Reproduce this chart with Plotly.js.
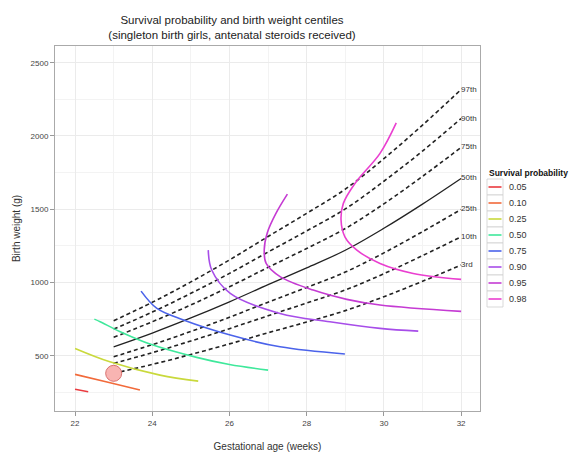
<!DOCTYPE html>
<html>
<head>
<meta charset="utf-8">
<script src="https://cdn.plot.ly/plotly-3.0.1.min.js"></script>
<style>html,body{margin:0;padding:0;background:#fff;}#chart{width:570px;height:453px;}</style>
</head>
<body>
<div id="chart"></div>
<script>
// Centile lines (gestational age in weeks, birth weight in g)
const centileAges = [23, 24, 25, 26, 27, 28, 29, 30, 31, 32];
const centileLabels = ["97th", "90th", "75th", "50th", "25th", "10th", "3rd"];
const c97 = [739, 865, 1004, 1154, 1314, 1472, 1637, 1845, 2074, 2317];
const c90 = [682, 798, 926, 1062, 1208, 1352, 1502, 1691, 1897, 2119];
const c75 = [626, 732, 847, 971, 1103, 1232, 1368, 1537, 1724, 1922];
const c50 = [561, 655, 758, 868, 985, 1100, 1220, 1370, 1535, 1710];
const c25 = [493, 576, 666, 763, 866, 966, 1071, 1202, 1347, 1499];
const c10 = [448, 521, 601, 685, 773, 860, 949, 1060, 1183, 1312];
const c03 = [380, 441, 509, 581, 657, 730, 808, 903, 1008, 1119];

// Survival probability contours
const survLevels = ["0.05", "0.10", "0.25", "0.50", "0.75", "0.90", "0.95", "0.98"];
const s05x = [22.0, 22.34];
const s05y = [271, 254];
const s10x = [22.0, 22.8, 23.68];
const s10y = [373, 322, 266];
const s25x = [22.0, 22.9, 24.2, 25.19];
const s25y = [550, 459, 368, 327];
const s50x = [22.5, 22.65, 23.17, 23.94, 25.15, 26.0, 27.0];
const s50y = [750, 732, 664, 580, 489, 440, 402];
const s75x = [23.71, 24.12, 24.81, 26.02, 27.31, 28.99];
const s75y = [941, 823, 744, 641, 561, 512];
const s90x = [25.45, 25.54, 26.02, 27.31, 28.6, 29.9, 30.89];
const s90y = [1221, 1085, 926, 789, 732, 687, 668];
const s95x = [27.5, 27.2, 26.98, 26.9, 26.95, 27.31, 28.17, 29.04, 29.9, 32.0];
const s95y = [1603, 1470, 1340, 1221, 1130, 1040, 948, 885, 846, 803];
const s98x = [30.32, 29.9, 29.25, 28.95, 28.89, 28.99, 29.3, 29.9, 30.76, 32.0];
const s98y = [2089, 1881, 1676, 1540, 1426, 1312, 1221, 1130, 1062, 1021];

// Highlighted point
const ptX = [23];
const ptY = [380];

const survColors = ["#ea3a3f", "#f26a3a", "#c9d93c", "#3fe89b", "#4b63ea", "#a74de9", "#c53bd3", "#ea3fd0"];

const FONT = "Liberation Sans, Arial, sans-serif";
const traces = [];
const centiles = [c97, c90, c75, c50, c25, c10, c03];
centiles.forEach((c, i) => {
  const solid = centileLabels[i] === "50th";
  traces.push({
    x: centileAges, y: c, type: "scatter", mode: "lines", showlegend: false, hoverinfo: "skip",
    line: {color: "#222", width: solid ? 1.3 : 1.6, dash: solid ? "solid" : "4px,3px", shape: "spline"}
  });
});
traces.push({
  x: centiles.map(() => centileAges[centileAges.length - 1]),
  y: centiles.map(c => c[c.length - 1]),
  text: centileLabels, type: "scatter", mode: "text", textposition: "middle right",
  textfont: {family: FONT, size: 8, color: "#333"},
  showlegend: false, hoverinfo: "skip", cliponaxis: false
});
const sx = [s05x, s10x, s25x, s50x, s75x, s90x, s95x, s98x];
const sy = [s05y, s10y, s25y, s50y, s75y, s90y, s95y, s98y];
survLevels.forEach((lv, i) => {
  traces.push({
    x: sx[i], y: sy[i], type: "scatter", mode: "lines", name: lv, showlegend: false,
    line: {color: survColors[i], width: 1.6, shape: "spline", smoothing: 1}
  });
});
traces.push({
  x: ptX, y: ptY, type: "scatter", mode: "markers", showlegend: false,
  marker: {size: 16, color: "#f8b4b2", line: {color: "#d9706e", width: 1}}
});

// Custom ggplot-style legend (paper coordinates)
const W = 570, H = 453, ML = 55, MR = 90, MT = 46, MB = 42;
const pw = W - ML - MR, ph = H - MT - MB;
const px = v => (v - ML) / pw;
const py = v => (H - MB - v) / ph;
const shapes = [];
const annotations = [];
annotations.push({
  xref: "paper", yref: "paper", x: px(487), y: py(172.5), xanchor: "left", yanchor: "middle",
  text: "<b>Survival probability</b>", showarrow: false, font: {family: FONT, size: 8.5, color: "#111"}
});
const keyTop = 179, keyH = 16;
survLevels.forEach((lv, i) => {
  const t = keyTop + i * keyH, cy = t + keyH / 2;
  shapes.push({type: "rect", xref: "paper", yref: "paper", x0: px(487), x1: px(503), y0: py(t), y1: py(t + keyH),
    line: {color: "#cfcfcf", width: 0.8}, fillcolor: "#ffffff"});
  shapes.push({type: "line", xref: "paper", yref: "paper", x0: px(488.5), x1: px(501.5), y0: py(cy), y1: py(cy),
    line: {color: survColors[i], width: 1.6}});
  annotations.push({
    xref: "paper", yref: "paper", x: px(507), y: py(cy), xanchor: "left", yanchor: "middle",
    text: lv, showarrow: false, font: {family: FONT, size: 9, color: "#333"}
  });
});

const axisFont = {family: FONT, size: 8, color: "#444"};
const layout = {
  width: W, height: H,
  margin: {l: ML, r: MR, t: MT, b: MB},
  paper_bgcolor: "#fff", plot_bgcolor: "#fff",
  font: {family: FONT, color: "#222"},
  title: {
    text: "Survival probability and birth weight centiles<br>(singleton birth girls, antenatal steroids received)",
    x: 0.407, xanchor: "center", y: 0.946, yanchor: "top",
    font: {size: 11.5, color: "#222"}
  },
  xaxis: {
    range: [21.48, 32.49], tickvals: [22, 24, 26, 28, 30, 32], ticks: "outside", ticklen: 4, tickcolor: "#999",
    showgrid: true, gridcolor: "#ebebeb", gridwidth: 1,
    minor: {tickvals: [23, 25, 27, 29, 31], showgrid: true, gridcolor: "#f3f3f3", ticks: ""},
    showline: true, linecolor: "#aaa", linewidth: 1, mirror: true, zeroline: false,
    tickfont: axisFont,
    title: {text: "Gestational age (weeks)", font: {size: 10, color: "#333"}, standoff: 16}
  },
  yaxis: {
    range: [123, 2614], tickvals: [500, 1000, 1500, 2000, 2500], ticks: "outside", ticklen: 4, tickcolor: "#999",
    showgrid: true, gridcolor: "#ebebeb", gridwidth: 1,
    minor: {tickvals: [250, 750, 1250, 1750, 2250], showgrid: true, gridcolor: "#f3f3f3", ticks: ""},
    showline: true, linecolor: "#aaa", linewidth: 1, mirror: true, zeroline: false,
    tickfont: axisFont,
    title: {text: "Birth weight (g)", font: {size: 10, color: "#333"}, standoff: 8}
  },
  shapes: shapes,
  annotations: annotations,
  showlegend: false
};
Plotly.newPlot("chart", traces, layout, {displayModeBar: false, staticPlot: true});
</script>
</body>
</html>
